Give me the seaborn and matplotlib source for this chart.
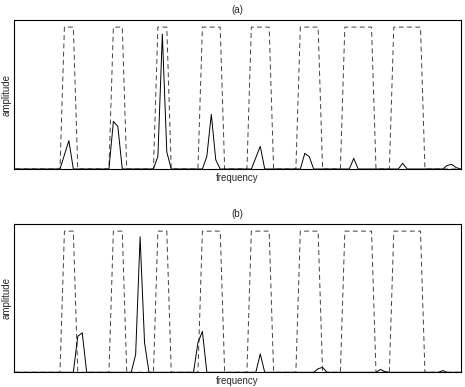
import numpy as np
import pandas as pd
import seaborn as sns
import matplotlib.pyplot as plt

sns.set_style("white")
plt.rcParams["font.family"] = ["Liberation Sans", "DejaVu Sans"]

# frequency bins 0..100
n_bins = 101

# filter bank windows: flat top from win_start to win_end (bin indices)
win_start = [11, 22, 32, 42, 53, 64, 74, 85]
win_end = [13, 24, 34, 46, 57, 68, 80, 91]

# spectrum (a): non-zero bins and their amplitudes
peak_bins_a = [11, 12, 22, 23, 32, 33, 34, 43, 44, 45, 54, 55, 65, 66, 76, 87, 97, 98, 99]
peak_vals_a = [0.10, 0.20, 0.335, 0.30, 0.09, 0.95, 0.12, 0.09, 0.385, 0.065,
               0.08, 0.16, 0.11, 0.087, 0.075, 0.04, 0.025, 0.033, 0.01]

# spectrum (b)
peak_bins_b = [14, 15, 27, 28, 29, 41, 42, 55, 68, 69, 82, 83, 96]
peak_vals_b = [0.255, 0.28, 0.125, 0.96, 0.21, 0.21, 0.29, 0.13,
               0.025, 0.035, 0.02, 0.005, 0.012]

titles = ["(a)", "(b)"]


def build_frame(bins, vals):
    freq = np.arange(n_bins)
    spec = np.zeros(n_bins)
    spec[bins] = vals
    win = np.zeros(n_bins)
    for s, e in zip(win_start, win_end):
        win[s:e + 1] = 1.0
    return pd.DataFrame({"freq": freq, "amplitude": spec, "window": win})


fig = plt.figure(figsize=(4.65, 3.87), dpi=100)
ax_a = fig.add_axes([0.0301, 0.5633, 0.9613, 0.385])
ax_b = fig.add_axes([0.0301, 0.038, 0.9613, 0.383])

for ax, title, bins, vals in zip([ax_a, ax_b], titles,
                                 [peak_bins_a, peak_bins_b],
                                 [peak_vals_a, peak_vals_b]):
    df = build_frame(bins, vals)
    sns.lineplot(ax=ax, data=df, x="freq", y="window", color="0.25",
                 linewidth=0.7, linestyle=(0, (5, 3.5)))
    sns.lineplot(ax=ax, data=df, x="freq", y="amplitude", color="black",
                 linewidth=0.7)
    ax.set_xlim(-0.33, 100.1)
    ax.set_ylim(0, 1.05)
    ax.set_xticks([])
    ax.set_yticks([])
    ax.set_title(title, fontsize=7, pad=5)
    ax.set_xlabel("frequency", fontsize=7, labelpad=3)
    ax.set_ylabel("amplitude", fontsize=7, labelpad=2)
    for sp in ax.spines.values():
        sp.set_color("black")
        sp.set_linewidth(0.8)

fig.savefig("out.png", dpi=100)
